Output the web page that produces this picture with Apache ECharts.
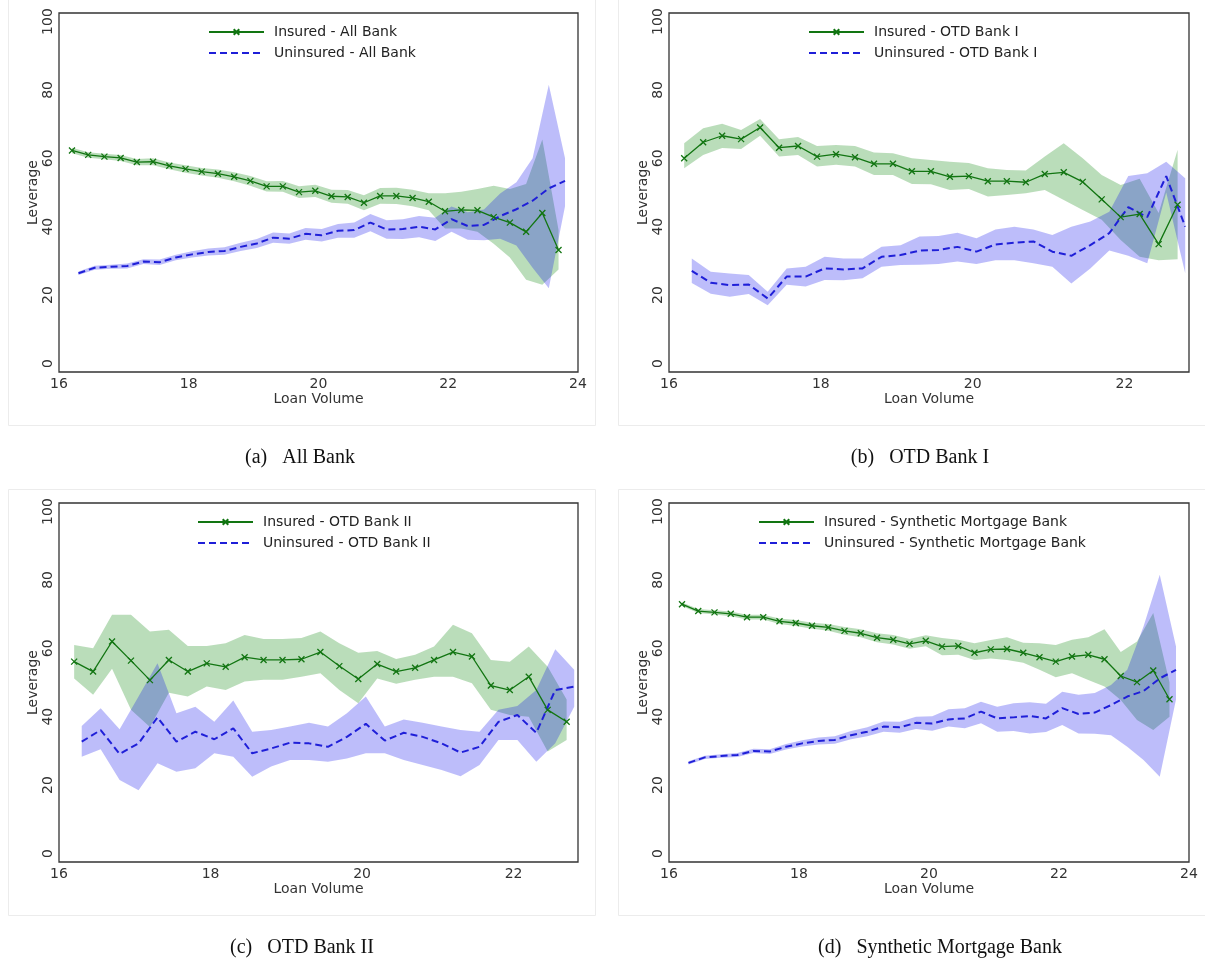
<!DOCTYPE html>
<html>
<head>
<meta charset="utf-8">
<script src="https://cdn.jsdelivr.net/npm/echarts@6/dist/echarts.min.js"></script>
<style>
  html, body { margin: 0; background: #fff; }
  #chart { width: 1205px; height: 959px; }
</style>
</head>
<body>
<div id="chart"></div>
<script>
// bin centres (loan volume) for the two groups
const binsIns = [16.2, 16.45, 16.7, 16.95, 17.2, 17.45, 17.7, 17.95, 18.2, 18.45, 18.7, 18.95, 19.2, 19.45, 19.7, 19.95,
  20.2, 20.45, 20.7, 20.95, 21.2, 21.45, 21.7, 21.95, 22.2, 22.45, 22.7, 22.95, 23.2, 23.45, 23.7]
const binsUnins = [16.3, 16.55, 16.8, 17.05, 17.3, 17.55, 17.8, 18.05, 18.3, 18.55, 18.8, 19.05, 19.3, 19.55, 19.8, 20.05,
  20.3, 20.55, 20.8, 21.05, 21.3, 21.55, 21.8, 22.05, 22.3, 22.55, 22.8, 23.05, 23.3, 23.55, 23.8]

const yTicks = [0, 20, 40, 60, 80, 100]
const xTicksWide = [16, 18, 20, 22, 24]
const xTicksNarrow = [16, 18, 20, 22]

// (a) All Bank
const allIns = [62.3, 61.0, 60.5, 60.1, 58.9, 59.0, 57.8, 56.9, 56.1, 55.5, 54.6, 53.4, 51.8, 51.8, 50.1, 50.5, 48.9, 48.7, 47.0, 49.0, 49.0, 48.4, 47.3, 44.5, 44.9, 44.8, 42.8, 41.2, 38.5, 44.0, 33.2]
const allInsLo = [61.5, 60.2, 59.7, 59.2, 58.0, 58.0, 56.8, 55.8, 55.0, 54.3, 53.3, 52.0, 50.3, 50.2, 48.4, 48.7, 47.0, 46.7, 44.8, 46.7, 46.6, 46.0, 44.8, 39.5, 39.5, 38.5, 35.0, 31.0, 24.5, 23.0, 27.5]
const allInsHi = [63.1, 61.8, 61.3, 61.0, 59.8, 60.0, 58.8, 58.0, 57.2, 56.7, 55.9, 54.8, 53.3, 53.4, 51.8, 52.3, 50.8, 50.7, 49.2, 51.3, 51.4, 50.8, 49.8, 49.8, 50.2, 51.0, 52.0, 51.0, 52.5, 65.5, 39.0]
const allUnins = [26.4, 28.0, 28.3, 28.5, 29.8, 29.6, 31.0, 31.9, 32.6, 32.9, 34.1, 35.1, 36.8, 36.5, 37.9, 37.5, 38.8, 39.0, 41.2, 39.2, 39.3, 40.0, 39.2, 42.2, 40.2, 40.5, 43.1, 45.1, 47.6, 51.2, 53.4]
const allUninsLo = [25.9, 27.4, 27.7, 27.8, 29.1, 28.8, 30.2, 31.0, 31.6, 31.8, 32.9, 33.8, 35.3, 35.0, 36.2, 35.7, 36.8, 36.8, 38.7, 36.5, 36.4, 36.9, 35.8, 38.5, 36.2, 36.0, 36.5, 34.5, 28.0, 22.0, 46.0]
const allUninsHi = [26.9, 28.6, 28.9, 29.2, 30.5, 30.4, 31.8, 32.8, 33.6, 34.0, 35.3, 36.4, 38.3, 38.0, 39.6, 39.3, 40.8, 41.2, 43.7, 41.9, 42.2, 43.1, 42.6, 45.9, 44.2, 45.0, 49.7, 53.0, 60.0, 81.5, 60.0]

// (b) OTD Bank I
const otd1Ins = [60.0, 64.7, 66.6, 65.6, 69.0, 63.1, 63.6, 60.5, 61.2, 60.3, 58.4, 58.4, 56.2, 56.2, 54.6, 54.8, 53.3, 53.3, 53.0, 55.4, 55.9, 53.1, 48.0, 42.8, 43.7, 34.9, 46.4]
const otd1InsLo = [57.1, 61.0, 63.0, 62.7, 66.6, 60.5, 61.0, 57.6, 58.1, 57.6, 55.1, 55.1, 52.5, 52.4, 50.7, 51.0, 48.8, 49.3, 49.8, 50.7, 47.8, 44.9, 42.0, 36.1, 31.2, 30.2, 30.5]
const otd1InsHi = [64.4, 68.8, 70.1, 68.3, 71.5, 65.6, 66.2, 63.6, 63.9, 63.6, 61.7, 61.5, 60.0, 59.5, 59.0, 58.6, 57.1, 56.6, 56.4, 60.5, 64.4, 60.0, 55.1, 52.2, 54.0, 44.0, 62.5]
const otd1Unins = [27.1, 23.6, 22.9, 23.1, 19.0, 25.4, 25.4, 27.8, 27.5, 27.8, 31.2, 31.7, 33.0, 33.2, 34.1, 32.7, 34.8, 35.3, 35.7, 32.7, 31.5, 34.6, 38.1, 45.7, 42.8, 54.8, 40.0]
const otd1UninsLo = [23.5, 20.4, 19.5, 20.3, 17.0, 23.0, 22.5, 24.4, 24.3, 24.9, 28.3, 28.8, 28.9, 29.1, 29.8, 29.1, 30.2, 30.2, 29.3, 28.3, 23.4, 27.8, 33.0, 31.5, 29.3, 50.0, 26.4]
const otd1UninsHi = [30.7, 26.8, 26.3, 25.9, 21.0, 27.8, 28.3, 31.2, 30.7, 30.7, 34.1, 34.6, 37.1, 37.3, 38.2, 36.6, 39.2, 40.0, 39.2, 37.6, 40.0, 41.5, 44.4, 54.8, 55.6, 59.0, 54.2]

// (c) OTD Bank II
const otd2Ins = [56.1, 53.2, 62.0, 56.4, 50.7, 56.6, 53.2, 55.6, 54.6, 57.4, 56.6, 56.6, 56.8, 58.9, 54.8, 51.0, 55.4, 53.2, 54.3, 56.6, 58.9, 57.6, 49.1, 47.8, 51.7, 42.0, 38.5]
const otd2InsLo = [51.2, 46.4, 54.0, 42.0, 37.0, 47.0, 45.9, 48.8, 47.8, 50.3, 50.8, 50.8, 51.7, 52.7, 47.8, 43.9, 51.2, 49.6, 50.8, 51.7, 51.7, 49.8, 42.0, 40.5, 40.0, 29.8, 33.2]
const otd2InsHi = [61.0, 60.0, 69.8, 69.8, 64.9, 65.4, 60.7, 60.7, 61.5, 63.9, 62.7, 62.7, 63.0, 64.9, 61.5, 58.7, 59.2, 56.9, 58.1, 60.5, 66.9, 64.4, 56.6, 56.1, 60.5, 54.6, 45.0]
const otd2Unins = [32.7, 36.1, 29.1, 32.2, 39.8, 32.7, 35.6, 33.4, 36.6, 29.3, 30.7, 32.4, 32.2, 31.2, 34.1, 37.9, 33.0, 35.3, 34.1, 32.2, 29.5, 31.2, 38.5, 40.5, 35.3, 47.8, 48.8]
const otd2UninsLo = [28.3, 30.5, 21.5, 18.5, 26.4, 23.9, 24.9, 29.3, 28.3, 22.4, 25.4, 27.3, 27.3, 26.8, 27.8, 29.3, 29.3, 27.3, 25.9, 24.4, 22.6, 25.9, 33.2, 33.2, 26.8, 32.2, 42.9]
const otd2UninsHi = [37.3, 42.5, 36.3, 45.9, 55.6, 41.0, 42.9, 38.5, 44.7, 35.6, 36.1, 37.1, 38.2, 37.1, 41.0, 45.9, 37.1, 39.2, 38.2, 37.1, 36.1, 35.6, 42.0, 43.1, 47.8, 59.7, 53.7]

// (d) Synthetic Mortgage Bank
const synIns = [72.9, 70.9, 70.5, 70.1, 69.1, 69.1, 67.9, 67.4, 66.6, 66.1, 65.1, 64.4, 63.1, 62.5, 61.3, 62.2, 60.5, 60.7, 58.7, 59.7, 59.8, 58.7, 57.4, 56.1, 57.6, 58.1, 56.8, 51.9, 50.1, 53.5, 45.1]
const synInsLo = [72.4, 70.3, 69.9, 69.4, 68.4, 68.4, 67.1, 66.5, 65.7, 65.1, 64.0, 63.2, 61.8, 61.1, 59.9, 60.6, 58.0, 58.1, 56.6, 57.0, 56.6, 55.8, 53.7, 51.5, 52.7, 50.7, 48.8, 44.9, 39.0, 36.1, 40.0]
const synInsHi = [73.4, 71.5, 71.1, 70.8, 69.8, 69.8, 68.7, 68.3, 67.5, 67.1, 66.2, 65.6, 64.4, 63.9, 62.7, 63.8, 63.0, 62.5, 61.5, 62.4, 63.2, 61.6, 61.5, 61.0, 62.5, 63.2, 65.6, 58.9, 62.0, 70.3, 50.0]
const synUnins = [26.5, 28.1, 28.5, 28.8, 30.0, 29.8, 31.2, 32.2, 32.9, 33.2, 34.6, 35.6, 37.1, 36.9, 38.2, 38.0, 39.2, 39.5, 41.5, 39.5, 39.8, 40.2, 39.5, 42.5, 40.8, 41.2, 43.4, 45.9, 47.5, 51.2, 53.7]
const synUninsLo = [26.0, 27.6, 28.0, 28.2, 29.4, 29.1, 30.4, 31.3, 31.9, 32.1, 33.4, 34.3, 35.6, 35.3, 36.4, 35.9, 37.1, 36.6, 38.1, 35.6, 35.8, 35.1, 35.5, 37.6, 35.1, 35.0, 34.6, 31.2, 27.3, 22.4, 45.0]
const synUninsHi = [27.0, 28.6, 29.0, 29.4, 30.6, 30.5, 32.0, 33.1, 33.9, 34.3, 35.8, 36.9, 38.6, 38.5, 40.0, 40.1, 42.2, 42.5, 44.4, 42.9, 43.9, 44.2, 43.8, 47.3, 46.4, 46.9, 49.3, 53.7, 66.4, 81.5, 60.5]

const GREEN = '#127512'
const BLUE = '#1f1fd8'
const GREEN_BAND = 'rgba(0,128,0,0.27)'
const BLUE_BAND = 'rgba(0,0,235,0.26)'
const FONT = 'DejaVu Sans'
const X_MARK = 'path://M0,0L10,10M10,0L0,10'

const panels = [
  { bank: 'All Bank', caption: '(a)   All Bank', grid: { left: 59, top: 13, width: 519, height: 359 }, xMax: 24, xTicks: xTicksWide,
    legend: { left: 208, top: 25 }, captionPos: [300, 458],
    ins: allIns, insLo: allInsLo, insHi: allInsHi, unins: allUnins, uninsLo: allUninsLo, uninsHi: allUninsHi },
  { bank: 'OTD Bank I', caption: '(b)   OTD Bank I', grid: { left: 669, top: 13, width: 520, height: 359 }, xMax: 22.85, xTicks: xTicksNarrow,
    legend: { left: 808, top: 25 }, captionPos: [920, 458],
    ins: otd1Ins, insLo: otd1InsLo, insHi: otd1InsHi, unins: otd1Unins, uninsLo: otd1UninsLo, uninsHi: otd1UninsHi },
  { bank: 'OTD Bank II', caption: '(c)   OTD Bank II', grid: { left: 59, top: 503, width: 519, height: 359 }, xMax: 22.85, xTicks: xTicksNarrow,
    legend: { left: 197, top: 515 }, captionPos: [302, 948],
    ins: otd2Ins, insLo: otd2InsLo, insHi: otd2InsHi, unins: otd2Unins, uninsLo: otd2UninsLo, uninsHi: otd2UninsHi },
  { bank: 'Synthetic Mortgage Bank', caption: '(d)   Synthetic Mortgage Bank', grid: { left: 669, top: 503, width: 520, height: 359 }, xMax: 24, xTicks: xTicksWide,
    legend: { left: 758, top: 515 }, captionPos: [940, 948],
    ins: synIns, insLo: synInsLo, insHi: synInsHi, unins: synUnins, uninsLo: synUninsLo, uninsHi: synUninsHi },
]

const pairs = (xs, ys) => ys.map((y, i) => [xs[i], y])

// confidence band: one polygon through the upper bounds and back along the lower bounds
const bandSeries = (gi, xs, lo, hi, color) => ({
  type: 'custom', xAxisIndex: gi, yAxisIndex: gi, silent: true,
  data: xs.map((x, i) => [x, lo[i], hi[i]]),
  encode: { x: 0, y: [1, 2] },
  renderItem: (params, api) => {
    if (params.dataIndex !== 0) return null
    const upper = xs.map((x, i) => api.coord([x, hi[i]]))
    const lower = xs.map((x, i) => api.coord([x, lo[i]])).reverse()
    return { type: 'polygon', shape: { points: upper.concat(lower) }, style: { fill: color }, silent: true }
  },
})

const grids = [], xAxes = [], yAxes = [], legends = [], series = [], graphics = []

panels.forEach((p, gi) => {
  const xsIns = binsIns.slice(0, p.ins.length)
  const xsUnins = binsUnins.slice(0, p.unins.length)
  const insName = 'Insured - ' + p.bank
  const uninsName = 'Uninsured - ' + p.bank

  grids.push({ ...p.grid, show: true, borderColor: '#333', borderWidth: 1.3, backgroundColor: 'transparent' })
  xAxes.push({
    type: 'value', gridIndex: gi, min: 16, max: p.xMax,
    axisLine: { show: false }, axisTick: { show: false }, splitLine: { show: false },
    axisLabel: { customValues: p.xTicks, margin: 5, fontSize: 14, color: '#333', fontFamily: FONT },
    name: 'Loan Volume', nameLocation: 'middle', nameGap: 20,
    nameTextStyle: { fontSize: 14, color: '#333', fontFamily: FONT },
  })
  yAxes.push({
    type: 'value', gridIndex: gi, min: -2.5, max: 102.5,
    axisLine: { show: false }, axisTick: { show: false }, splitLine: { show: false },
    axisLabel: { customValues: yTicks, rotate: 90, margin: 4, fontSize: 14, color: '#333', fontFamily: FONT },
    name: 'Leverage', nameLocation: 'middle', nameGap: 18,
    nameTextStyle: { fontSize: 14, color: '#333', fontFamily: FONT },
  })
  legends.push({
    orient: 'vertical', left: p.legend.left, top: p.legend.top, padding: 0,
    itemWidth: 55, itemHeight: 7, itemGap: 7, selectedMode: false,
    textStyle: { fontSize: 14, color: '#222', fontFamily: FONT, padding: [0, 0, 0, 5] },
    data: [{ name: insName }, { name: uninsName, itemStyle: { opacity: 0 } }],
  })

  series.push(bandSeries(gi, xsIns, p.insLo, p.insHi, GREEN_BAND))
  series.push({
    name: insName, type: 'line', xAxisIndex: gi, yAxisIndex: gi, data: pairs(xsIns, p.ins),
    symbol: X_MARK, symbolSize: 6, showSymbol: true,
    lineStyle: { color: GREEN, width: 1.3 },
    itemStyle: { color: GREEN, borderColor: GREEN, borderWidth: 1.3 },
  })
  series.push(bandSeries(gi, xsUnins, p.uninsLo, p.uninsHi, BLUE_BAND))
  series.push({
    name: uninsName, type: 'line', xAxisIndex: gi, yAxisIndex: gi, data: pairs(xsUnins, p.unins),
    symbol: 'none',
    lineStyle: { color: BLUE, width: 2, type: [7, 4] },
    itemStyle: { color: BLUE },
  })

  // light frame around each sub-figure and its caption
  const fx = p.grid.left - 51, fy = p.grid.top - 13
  graphics.push({
    type: 'rect', shape: { x: fx + 0.5, y: fy - 0.5, width: 587, height: 426 },
    style: { fill: 'none', stroke: '#ececec', lineWidth: 1 }, silent: true,
  })
  graphics.push({
    type: 'text', x: p.captionPos[0], y: p.captionPos[1],
    style: { text: p.caption, font: '20px "Liberation Serif"', fill: '#111', align: 'center', verticalAlign: 'middle' },
  })
})

const chart = echarts.init(document.getElementById('chart'), null, { renderer: 'canvas' })
chart.setOption({
  animation: false,
  backgroundColor: '#fff',
  grid: grids,
  xAxis: xAxes,
  yAxis: yAxes,
  legend: legends,
  series,
  graphic: graphics,
})
</script>
</body>
</html>
